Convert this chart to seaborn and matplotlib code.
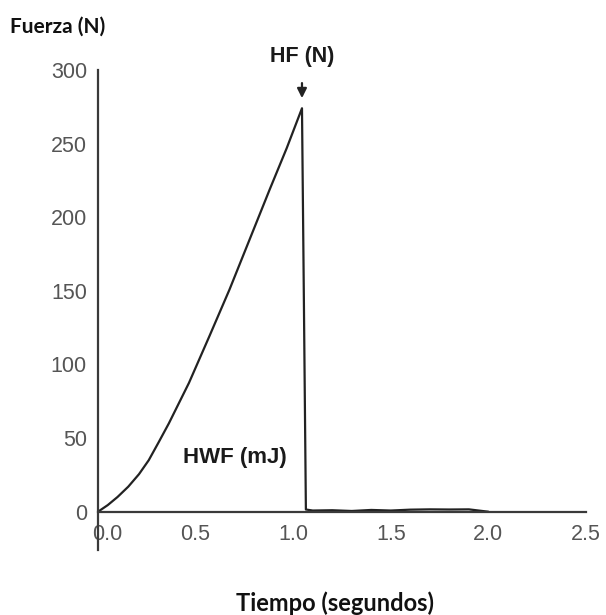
import matplotlib
matplotlib.use("Agg")
import matplotlib.pyplot as plt
import matplotlib.transforms as mtransforms
import seaborn as sns
import pandas as pd

# Data
tiempo = [0.0, 0.05, 0.10, 0.155, 0.21, 0.26, 0.31, 0.363, 0.466, 0.57, 0.674, 0.777,
          0.88, 0.967, 1.045, 1.055, 1.065, 1.10, 1.20, 1.30, 1.40, 1.50, 1.60, 1.70,
          1.80, 1.90, 1.95, 2.00]
fuerza = [0.0, 4.5, 10.0, 17.0, 25.5, 35.0, 47.0, 60.0, 87.5, 119.0, 151.0, 185.0,
          219.0, 247.0, 274.0, 140.0, 1.5, 0.8, 1.0, 0.5, 1.2, 0.8, 1.4, 1.6,
          1.5, 1.6, 0.8, 0.0]
x_ticks = [0.0, 0.5, 1.0, 1.5, 2.0, 2.5]
y_ticks = [0, 50, 100, 150, 200, 250, 300]
x_labels = ["0.0", "0.5", "1.0", "1.5", "2.0", "2.5"]
y_labels = ["0", "50", "100", "150", "200", "250", "300"]
peak_t, peak_f = 1.045, 274.0

df = pd.DataFrame({"Tiempo": tiempo, "Fuerza": fuerza})

sns.set_style("white")
plt.rcParams["font.family"] = ["Liberation Sans", "DejaVu Sans"]

W, H = 606, 615
fig = plt.figure(figsize=(W / 100, H / 100), dpi=100)
ax = fig.add_axes([98 / W, 1 - 550 / H, (586 - 98) / W, (550 - 70) / H])

sns.lineplot(data=df, x="Tiempo", y="Fuerza", ax=ax, color="#222222",
             linewidth=1.6, estimator=None, sort=False)

ax.set_xlim(0, 2.5)
ax.set_ylim(-26, 300)
ax.spines["top"].set_visible(False)
ax.spines["right"].set_visible(False)
ax.spines["bottom"].set_position(("data", 0))
for s in ("left", "bottom"):
    ax.spines[s].set_color("#3a3a3a")
    ax.spines[s].set_linewidth(1.6)
ax.spines["left"].set_bounds(-26, 300)

ax.set_xticks(x_ticks)
ax.set_xticklabels(x_labels)
ax.set_yticks(y_ticks)
ax.set_yticklabels(y_labels)
ax.tick_params(axis="x", direction="in", length=4, width=1.4, color="#3a3a3a",
               labelsize=15.5, labelcolor="#555555", pad=9)
ax.tick_params(axis="y", direction="out", length=4, width=1.4, color="#3a3a3a",
               labelsize=15.5, labelcolor="#555555", pad=4)
ax.set_xlabel("")
ax.set_ylabel("")

# the first x label sits slightly right of its tick in the reference
first = ax.get_xticklabels()[0]
first.set_transform(first.get_transform() +
                    mtransforms.ScaledTranslation(9 / 100, 0, fig.dpi_scale_trans))

ax.annotate("", xy=(peak_t, 279), xytext=(peak_t, 293),
            arrowprops=dict(arrowstyle="-|>", color="#222222", lw=1.6,
                            mutation_scale=14))
ax.text(peak_t, 309, "HF (N)", ha="center", va="center", fontsize=15.5,
        fontweight="bold", color="#1a1a1a")
ax.text(0.70, 37, "HWF (mJ)", ha="center", va="center", fontsize=16,
        fontweight="bold", color="#1a1a1a")

fig.text(10 / W, 1 - 27 / H, "Fuerza (N)", ha="left", va="center", fontsize=15,
         fontweight="bold", family=["Lato", "DejaVu Sans"], color="#111111")
fig.text(335 / W, 1 - 603 / H, "Tiempo (segundos)", ha="center", va="center",
         fontsize=17, fontweight="bold", family=["Lato", "DejaVu Sans"], color="#111111")

fig.savefig("out.png", dpi=100, facecolor="white")
